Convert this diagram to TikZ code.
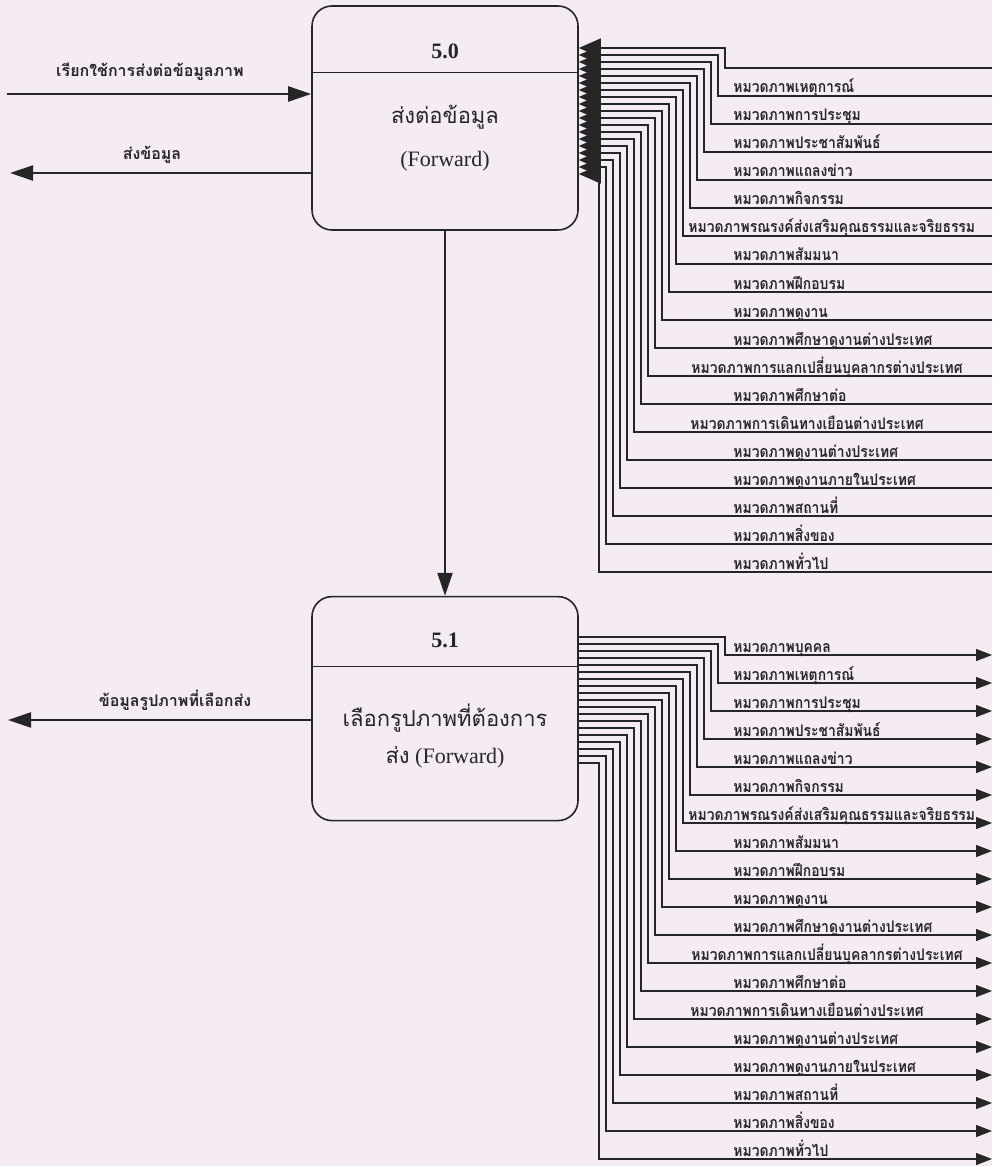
\documentclass[tikz,border=0pt]{standalone}
\usepackage{fontspec}
\setmainfont{Liberation Serif}
\newfontfamily\thaifont[Script=Thai]{Loma}
\newfontfamily\thaicond[Script=Thai,FakeStretch=0.87]{Loma}
\usetikzlibrary{arrows.meta,positioning,calc}
\definecolor{Paper}{HTML}{F5EBF5}
\definecolor{Ink}{HTML}{262626}
% picture categories: label / left edge of label
\newcommand{\catlist}{%
หมวดภาพบุคคล/733,
หมวดภาพเหตุการณ์/733,
หมวดภาพการประชุม/733,
หมวดภาพประชาสัมพันธ์/733,
หมวดภาพแถลงข่าว/733,
หมวดภาพกิจกรรม/733,
หมวดภาพรณรงค์ส่งเสริมคุณธรรมและจริยธรรม/688,
หมวดภาพสัมมนา/733,
หมวดภาพฝึกอบรม/733,
หมวดภาพดูงาน/733,
หมวดภาพศึกษาดูงานต่างประเทศ/733,
หมวดภาพการแลกเปลี่ยนบุคลากรต่างประเทศ/691,
หมวดภาพศึกษาต่อ/733,
หมวดภาพการเดินทางเยือนต่างประเทศ/690,
หมวดภาพดูงานต่างประเทศ/733,
หมวดภาพดูงานภายในประเทศ/733,
หมวดภาพสถานที่/733,
หมวดภาพสิ่งของ/733,
หมวดภาพทั่วไป/733}

\begin{document}
\begin{tikzpicture}[x=0.5pt,y=-0.5pt,>={Triangle[length=11.5pt,width=7.5pt]},
  every node/.style={font=\thaifont\bfseries\fontsize{8}{9}\selectfont,text=Ink},
  procbox/.style={draw=Ink,line width=0.8pt,rounded corners=10pt,minimum width=133pt,minimum height=112pt,inner sep=0pt},
  boxtext/.style={font=\fontsize{11}{13}\selectfont},
  boxthai/.style={font=\thaifont\fontsize{11}{13}\selectfont},
  flow/.style={draw=Ink,line width=1.1pt},
  catline/.style={draw=Ink,line width=0.6pt},
  catlabel/.style={anchor=base west,inner sep=0pt,font=\thaicond\bfseries\fontsize{8}{9}\selectfont}]
\fill[Paper] (0,0) rectangle (992,1166);
\useasboundingbox (0,0) rectangle (992,1166);

% processes
\node[procbox] (p50) at (445,118) {};
\node[procbox,below=182.5pt of p50] (p51) {};
\draw[Ink,line width=0.6pt] (p50.north west) ++(0,67) -- ++(266,0);
\draw[Ink,line width=0.6pt] (p51.north west) ++(0,71) -- ++(266,0);
\node[boxtext,font=\bfseries\fontsize{11}{13}\selectfont] (n50) at ($(p50.north)+(0,46)$) {5.0};
\node[boxthai] (t50) at ($(p50.north)+(0,112)$) {ส่งต่อข้อมูล};
\node[boxtext] (f50) at ($(p50.north)+(0,156)$) {(Forward)};
\node[boxtext,font=\bfseries\fontsize{11}{13}\selectfont] (n51) at ($(p51.north)+(0,45)$) {5.1};
\node[boxthai] (t51) at ($(p51.north)+(0,122)$) {เลือกรูปภาพที่ต้องการ};
\node[boxtext] (f51) at ($(p51.north)+(0,162)$) {{\thaifont ส่ง} (Forward)};

% flows on the left
\coordinate (callsrc) at (7,94);
\draw[flow,->] (callsrc) -- (callsrc -| p50.west);
\node (callname) at (150,72) {เรียกใช้การส่งต่อข้อมูลภาพ};
\coordinate (senddst) at (10,173);
\draw[flow,->] (senddst -| p50.west) -- (senddst);
\node (sendname) at (152,155) {ส่งข้อมูล};
\coordinate (pickdst) at (8,720);
\draw[flow,->] (pickdst -| p51.west) -- (pickdst);
\node (pickname) at (175,700) {ข้อมูลรูปภาพที่เลือกส่ง};
\draw[flow,->] (p50) -- (p51);

% categories into 5.0
\foreach \lab/\lx [count=\i from 0] in \catlist {
  \pgfmathsetmacro\yb{48+7*\i}
  \pgfmathsetmacro\xv{725-7*\i}
  \pgfmathsetmacro\yl{68+28*\i}
  \draw[catline,-{Triangle[length=11pt,width=9.5pt]}] (992,\yl) -- (\xv,\yl) -- (\xv,\yb) -- (p50.east |- 0,\yb);
  \ifnum\i>0 \node[catlabel] at (\lx,\yl-3) {\lab};\fi
}

% categories out of 5.1
\foreach \lab/\lx [count=\i from 0] in \catlist {
  \pgfmathsetmacro\yb{637+7*\i}
  \pgfmathsetmacro\xv{725-7*\i}
  \pgfmathsetmacro\yl{655+28*\i}
  \draw[catline,-{Triangle[length=8pt,width=6pt]}] (p51.east |- 0,\yb) -- (\xv,\yb) -- (\xv,\yl) -- (992,\yl);
  \node[catlabel] at (\lx,\yl-3) {\lab};
}
\end{tikzpicture}
\end{document}
